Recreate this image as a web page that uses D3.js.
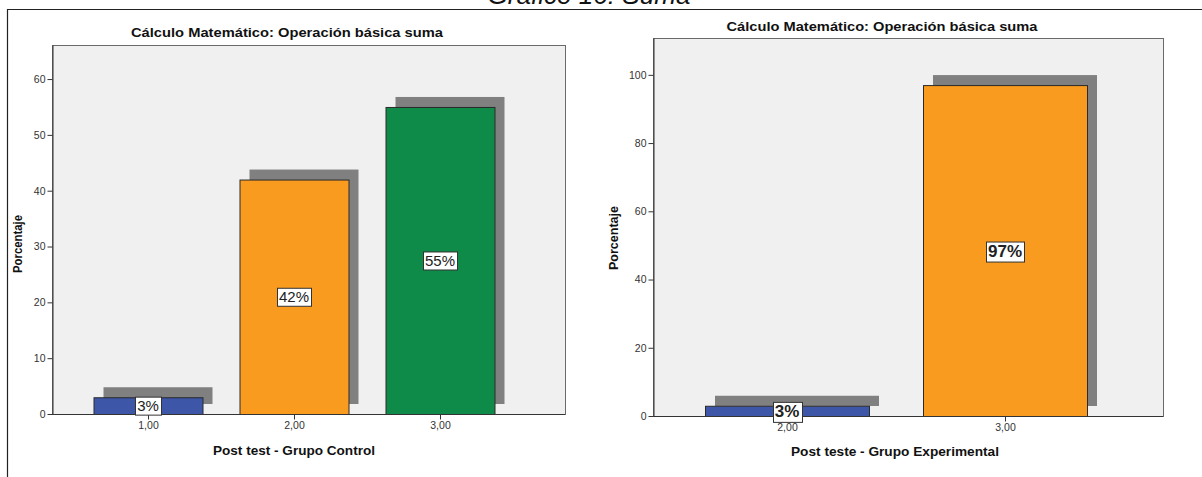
<!DOCTYPE html>
<html>
<head>
<meta charset="utf-8">
<script src="https://cdn.jsdelivr.net/npm/d3@7"></script>
<style>
  html, body { margin: 0; padding: 0; background: #fff; }
  svg { display: block; font-family: "Liberation Sans", Arial, sans-serif; }
</style>
</head>
<body>
<svg id="chart" width="1202" height="477"></svg>
<script>
// Figure heading
const figureTitle = "Gráfico 16: Suma";
const panelTitle = "Cálculo Matemático: Operación básica suma";
const yAxisTitle = "Porcentaje";

// Post test – control group
const controlCategories = ["1,00", "2,00", "3,00"];
const controlValues = [3, 42, 55];
const controlColors = ["#3d56a8", "#f99b1e", "#0e8b48"];
const controlTicks = [0, 10, 20, 30, 40, 50, 60];
const controlXTitle = "Post test - Grupo Control";

// Post test – experimental group
const experimentalCategories = ["2,00", "3,00"];
const experimentalValues = [3, 97];
const experimentalColors = ["#3d56a8", "#f99b1e"];
const experimentalTicks = [0, 20, 40, 60, 80, 100];
const experimentalXTitle = "Post teste - Grupo Experimental";

const svg = d3.select("#chart");

// outer frame lines and the heading above them (its top runs off the page)
svg.append("text")
  .attr("x", 589).attr("y", 4)
  .attr("text-anchor", "middle")
  .attr("font-size", 25).attr("font-style", "italic")
  .attr("fill", "#111")
  .attr("textLength", 203).attr("lengthAdjust", "spacingAndGlyphs")
  .text(figureTitle);
svg.append("line").attr("x1", 7).attr("x2", 1202).attr("y1", 9.5).attr("y2", 9.5)
  .attr("stroke", "#222").attr("stroke-width", 1.2);
svg.append("line").attr("x1", 7.5).attr("x2", 7.5).attr("y1", 9).attr("y2", 477)
  .attr("stroke", "#222").attr("stroke-width", 1.2);

function drawPanel(cfg) {
  const g = svg.append("g");
  const { left, right, top, bottom } = cfg.box;

  const y = d3.scaleLinear().domain([0, cfg.yMax]).range([bottom, top]);
  const x = d3.scalePoint().domain(cfg.categories).range(cfg.centerRange);

  // plot background
  g.append("rect")
    .attr("x", left + 0.5).attr("y", top + 0.5)
    .attr("width", right - left).attr("height", bottom - top)
    .attr("fill", "#f0f0f0").attr("stroke", "#6a6a6a").attr("stroke-width", 1);

  // title
  g.append("text")
    .attr("x", cfg.titleX).attr("y", cfg.titleY)
    .attr("text-anchor", "middle")
    .attr("font-size", 13).attr("font-weight", "bold").attr("fill", "#111")
    .attr("textLength", cfg.titleWidth).attr("lengthAdjust", "spacingAndGlyphs")
    .text(panelTitle);

  // drop shadows behind bars
  g.selectAll("rect.shadow").data(cfg.values).join("rect")
    .attr("class", "shadow")
    .attr("x", (d, i) => x(cfg.categories[i]) - cfg.barWidth / 2 + cfg.shadow)
    .attr("y", d => y(d) - cfg.shadow)
    .attr("width", cfg.barWidth)
    .attr("height", d => y(0) - y(d))
    .attr("fill", "#808080");

  // bars
  g.selectAll("rect.bar").data(cfg.values).join("rect")
    .attr("class", "bar")
    .attr("x", (d, i) => x(cfg.categories[i]) - cfg.barWidth / 2 + 0.5)
    .attr("y", d => y(d) + 0.5)
    .attr("width", cfg.barWidth)
    .attr("height", d => y(0) - y(d))
    .attr("fill", (d, i) => cfg.colors[i])
    .attr("stroke", "#2a2a2a").attr("stroke-width", 1);

  // y axis
  const yAxis = d3.axisLeft(y).tickValues(cfg.ticks).tickSizeInner(5).tickSizeOuter(0)
    .tickPadding(2).tickFormat(d3.format("d"));
  const ya = g.append("g").attr("transform", `translate(${left + 0.5},0)`).call(yAxis);
  ya.select(".domain").attr("stroke", "#333");
  ya.selectAll(".tick line").attr("stroke", "#333");
  ya.selectAll(".tick text").attr("font-size", 10.5).attr("fill", "#333")
    .attr("font-family", "'Liberation Sans', Arial, sans-serif");

  // x axis
  const xAxis = d3.axisBottom(x).tickSizeInner(5).tickSizeOuter(0).tickPadding(2);
  const xa = g.append("g").attr("transform", `translate(0,${bottom + 0.5})`).call(xAxis);
  xa.select(".domain").attr("d", `M${left},0H${right}`).attr("stroke", "#333");
  xa.selectAll(".tick line").attr("stroke", "#333");
  xa.selectAll(".tick text").attr("font-size", 10.5).attr("fill", "#333")
    .attr("font-family", "'Liberation Sans', Arial, sans-serif");

  // axis titles
  g.append("text")
    .attr("transform", `translate(${cfg.yTitleX},${cfg.yTitleY}) rotate(-90)`)
    .attr("text-anchor", "middle")
    .attr("font-size", 12).attr("font-weight", "bold").attr("fill", "#111")
    .attr("textLength", cfg.yTitleLen).attr("lengthAdjust", "spacingAndGlyphs")
    .text(yAxisTitle);
  g.append("text")
    .attr("x", cfg.xTitleX).attr("y", cfg.xTitleY)
    .attr("text-anchor", "middle")
    .attr("font-size", 13).attr("font-weight", "bold").attr("fill", "#111")
    .attr("textLength", cfg.xTitleWidth).attr("lengthAdjust", "spacingAndGlyphs")
    .text(cfg.xTitle);

  // value labels in white boxes at the bar middle
  const labels = g.selectAll("g.lab").data(cfg.values).join("g")
    .attr("class", "lab")
    .attr("transform", (d, i) => `translate(${x(cfg.categories[i])},${(y(d) + y(0)) / 2})`);
  labels.append("text")
    .attr("text-anchor", "middle").attr("dy", "0.36em")
    .attr("font-size", cfg.labelSize).attr("font-weight", cfg.labelWeight)
    .attr("fill", "#222")
    .text(d => d + "%");
  labels.each(function () {
    const t = d3.select(this).select("text");
    const b = t.node().getBBox();
    d3.select(this).insert("rect", "text")
      .attr("x", Math.round(b.x - 2) + 0.5).attr("y", Math.round(b.y) + 0.5)
      .attr("width", Math.round(b.width + 4)).attr("height", Math.round(b.height + 1))
      .attr("fill", "#fff").attr("stroke", "#333").attr("stroke-width", 1);
  });
}

drawPanel({
  box: { left: 52, right: 565, top: 45, bottom: 414 },
  yMax: 66.1,
  categories: controlCategories,
  values: controlValues,
  colors: controlColors,
  ticks: controlTicks,
  centerRange: [148, 440],
  barWidth: 109,
  shadow: 10,
  titleX: 287, titleY: 37, titleWidth: 312,
  yTitleX: 22, yTitleY: 244, yTitleLen: 58,
  xTitle: controlXTitle, xTitleX: 294, xTitleY: 455, xTitleWidth: 162,
  labelSize: 15, labelWeight: "normal"
});

drawPanel({
  box: { left: 653, right: 1163, top: 38, bottom: 416 },
  yMax: 110.8,
  categories: experimentalCategories,
  values: experimentalValues,
  colors: experimentalColors,
  ticks: experimentalTicks,
  centerRange: [787, 1005],
  barWidth: 164,
  shadow: 10,
  titleX: 882, titleY: 31, titleWidth: 311,
  yTitleX: 618, yTitleY: 238, yTitleLen: 64,
  xTitle: experimentalXTitle, xTitleX: 895, xTitleY: 456, xTitleWidth: 208,
  labelSize: 17, labelWeight: "bold"
});
</script>
</body>
</html>
